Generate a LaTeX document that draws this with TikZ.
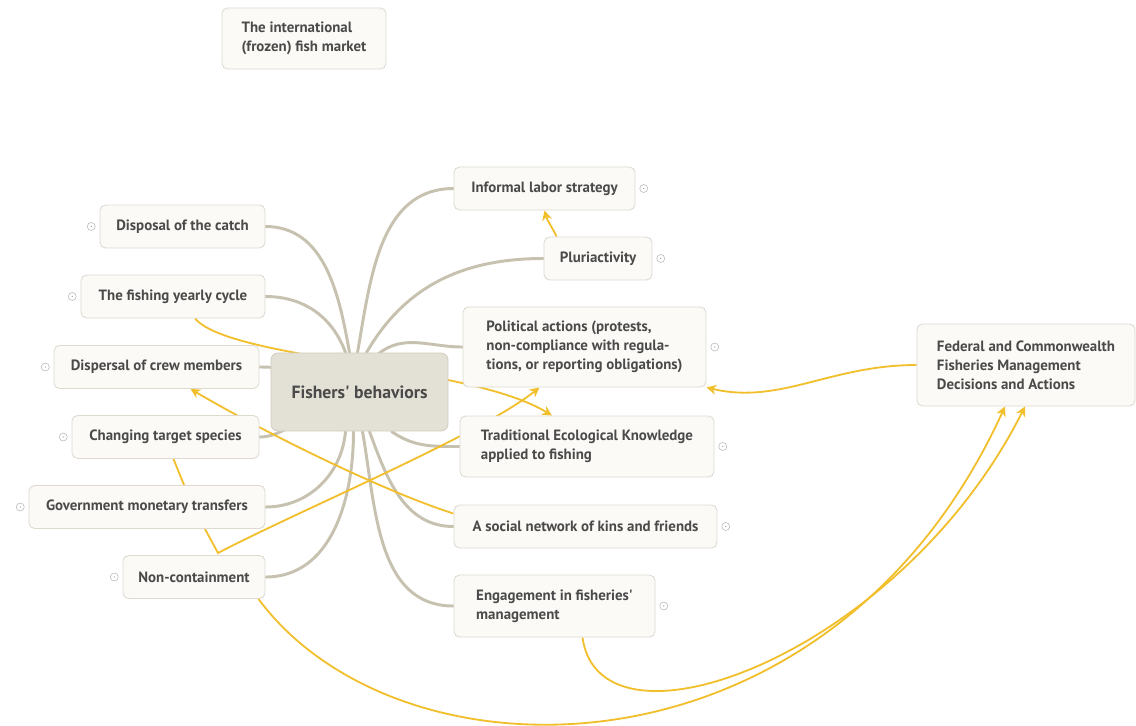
\documentclass[tikz,border=0pt]{standalone}
\usepackage{fontspec}
\setmainfont{PT Sans}
\usepackage{tikz}
\usetikzlibrary{positioning,calc,backgrounds,arrows.meta}

\definecolor{boxfill}{HTML}{FBFAF6}
\definecolor{boxline}{HTML}{DDD9CF}
\definecolor{hubfill}{HTML}{E3E0D5}
\definecolor{hubline}{HTML}{D2CEC2}
\definecolor{branchcol}{HTML}{C7C1AF}
\definecolor{relcol}{HTML}{F2BF2C}
\definecolor{txtcol}{HTML}{4A4A4A}

\tikzset{
  topic/.style={draw=boxline, fill=boxfill, line width=0.6pt, rounded corners=4pt,
    text=txtcol, font=\fontsize{10.6}{13.5}\selectfont\bfseries,
    inner sep=0pt, minimum height=1.075cm},
  wide/.style={align=left},
  hub/.style={draw=hubline, fill=hubfill, line width=0.6pt, rounded corners=5pt,
    text=txtcol, font=\fontsize{12.6}{15}\selectfont\bfseries,
    minimum width=4.425cm, minimum height=1.95cm},
  plusmark/.style={circle, draw=gray!55, fill=white, line width=0.4pt,
    minimum size=0.2cm, inner sep=0pt,
    path picture={\fill[gray!80] (path picture bounding box.center) circle (0.5pt);}},
  branch/.style={draw=branchcol, line width=2.1pt, line cap=round},
  rel/.style={draw=relcol, line width=1.3pt, -{Stealth[length=7pt,width=7pt]}}
}

\begin{document}
\begin{tikzpicture}[x=0.025cm, y=-0.025cm]
\useasboundingbox (0,0) rectangle (1136,725);

% topics
\node[topic, wide, minimum width=4.1cm, minimum height=1.525cm] (market) at (304,38.5)
  {The international\\(frozen) fish market};
\node[hub] (fb) at (359.5,392) {Fishers\textquotesingle{} behaviors};

\node[topic, minimum width=4.525cm] (informal) at (544.5,188.5) {Informal labor strategy};
\node[topic, minimum width=2.7cm] (pluri) at (598,258.5) {Pluriactivity};
\node[topic, wide, minimum width=6.075cm, minimum height=2cm] (political) at (584.5,347)
  {Political actions (protests,\\non-compliance with regula-\\tions, or reporting obligations)};
\node[topic, wide, minimum width=6.35cm, minimum height=1.525cm] (tek) at (587,446.5)
  {Traditional Ecological Knowledge\\applied to fishing};
\node[topic, minimum width=6.575cm] (social) at (585.5,526.5) {A social network of kins and friends};
\node[topic, wide, minimum width=5.025cm, minimum height=1.55cm] (engage) at (554.5,606)
  {Engagement in fisheries\textquotesingle\\management};

\node[topic, minimum width=4.125cm] (disposal) at (182.5,226.5) {Disposal of the catch};
\node[topic, minimum width=4.6cm] (yearly) at (173,296.5) {The fishing yearly cycle};
\node[topic, minimum width=5.125cm] (dispersal) at (156.5,367) {Dispersal of crew members};
\node[topic, minimum width=4.675cm] (changing) at (165.5,437) {Changing target species};
\node[topic, minimum width=5.9cm] (govt) at (147,507) {Government monetary transfers};
\node[topic, minimum width=3.55cm] (noncont) at (194,577) {Non-containment};

\node[topic, wide, minimum width=5.45cm, minimum height=2.05cm] (federal) at (1026,365)
  {Federal and Commonwealth\\Fisheries Management\\Decisions and Actions};

% small expand marks
\node[plusmark, left=0.1cm of disposal] (pdisposal) {};
\node[plusmark, left=0.1cm of yearly] (pyearly) {};
\node[plusmark, left=0.1cm of dispersal] (pdispersal) {};
\node[plusmark, left=0.1cm of changing] (pchanging) {};
\node[plusmark, left=0.1cm of govt] (pgovt) {};
\node[plusmark, left=0.1cm of noncont] (pnoncont) {};
\node[plusmark, right=0.1cm of informal] (pinformal) {};
\node[plusmark, right=0.1cm of pluri] (ppluri) {};
\node[plusmark, right=0.1cm of political] (ppolitical) {};
\node[plusmark, right=0.1cm of tek] (ptek) {};
\node[plusmark, right=0.1cm of social] (psocial) {};
\node[plusmark, right=0.1cm of engage] (pengage) {};

\coordinate (vtip) at (218,553);

\begin{scope}[on background layer]
% branches to the hub
\draw[branch] (disposal.east) to[out=0,in=100] ($(fb.north)+(-10,0)$);
\draw[branch] (yearly.east) to[out=0,in=110] ($(fb.north)+(-14,0)$);
\draw[branch] (informal.west) to[out=180,in=80] ($(fb.north)+(-2,0)$);
\draw[branch] (pluri.west) to[out=180,in=60] ($(fb.north)+(7,0)$);
\draw[branch] (political.west) to[out=180,in=40] ($(fb.north)+(18,2)$);
\draw[branch] (dispersal.east) to[out=0,in=165] ($(fb.north west)+(30,20)$);
\draw[branch] (changing.east) to[out=0,in=195] ($(fb.south west)+(30,-8)$);
\draw[branch] (govt.east) to[out=0,in=-95] ($(fb.south)+(-14,0)$);
\draw[branch] (noncont.east) to[out=0,in=-90] ($(fb.south)+(-6,0)$);
\draw[branch] (engage.west) to[out=180,in=-80] ($(fb.south)+(3,0)$);
\draw[branch] (social.west) to[out=180,in=-70] ($(fb.south)+(10,0)$);
\draw[branch] (tek.west) to[out=180,in=-35] ($(fb.south)+(32,0)$);

% relationships
\draw[rel] ($(pluri.north west)+(13,0)$) to[out=115,in=-75] (informal.south);
\draw[rel] ($(yearly.south)+(22,0)$) .. controls (230,360) and (470,365) .. ($(tek.north)+(-35,0)$);
\draw[rel] ($(social.north west)+(0,9)$) .. controls (380,490) and (260,430) .. ($(dispersal.south)+(34,0)$);
\draw[rel] ($(changing.south)+(8,0)$) .. controls (192,505) .. (vtip)
  .. controls (300,510) and (480,435) .. ($(political.south)+(-45,0)$);
\draw[rel] (federal.west) .. controls (830,365) and (780,405) .. (political.south east);
\draw[rel] ($(noncont.south east)+(-7,0)$) .. controls (400,790) and (830,790) .. ($(federal.south)+(-21,0)$);
\draw[rel] ($(engage.south)+(28,0)$) .. controls (600,765) and (900,655) .. ($(federal.south)+(-1,0)$);
\end{scope}
\end{tikzpicture}
\end{document}
